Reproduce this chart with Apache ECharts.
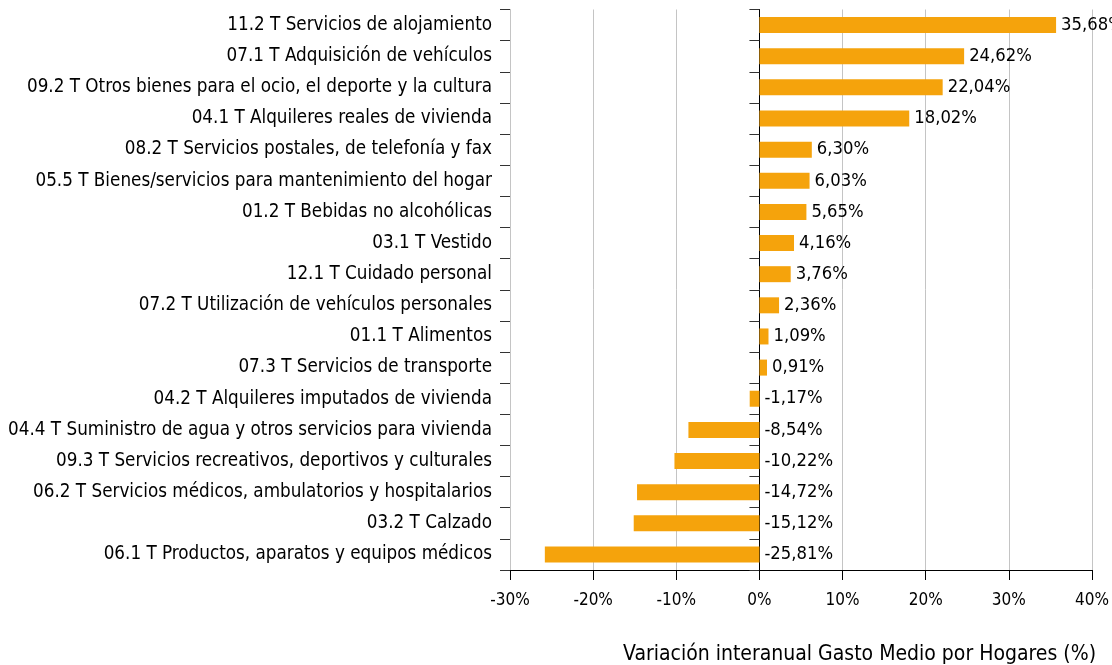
<!DOCTYPE html>
<html>
<head>
<meta charset="utf-8">
<script src="https://cdn.jsdelivr.net/npm/echarts@6/dist/echarts.min.js"></script>
<style>
html,body{margin:0;padding:0;background:#fff;}
#chart{width:1112px;height:665px;}
</style>
</head>
<body>
<div id="chart"></div>
<script>
const categories = [
  "11.2 T Servicios de alojamiento",
  "07.1 T Adquisición de vehículos",
  "09.2 T Otros bienes para el ocio, el deporte y la cultura",
  "04.1 T Alquileres reales de vivienda",
  "08.2 T Servicios postales, de telefonía y fax",
  "05.5 T Bienes/servicios para mantenimiento del hogar",
  "01.2 T Bebidas no alcohólicas",
  "03.1 T Vestido",
  "12.1 T Cuidado personal",
  "07.2 T Utilización de vehículos personales",
  "01.1 T Alimentos",
  "07.3 T Servicios de transporte",
  "04.2 T Alquileres imputados de vivienda",
  "04.4 T Suministro de agua y otros servicios para vivienda",
  "09.3 T Servicios recreativos, deportivos y culturales",
  "06.2 T Servicios médicos, ambulatorios y hospitalarios",
  "03.2 T Calzado",
  "06.1 T Productos, aparatos y equipos médicos"
];
const values = [35.68, 24.62, 22.04, 18.02, 6.30, 6.03, 5.65, 4.16, 3.76, 2.36, 1.09, 0.91, -1.17, -8.54, -10.22, -14.72, -15.12, -25.81];
const axisTitle = "Variación interanual Gasto Medio por Hogares (%)";
const xMin = -30, xMax = 40, xStep = 10;

const FONT = "DejaVu Sans Condensed";
const chart = echarts.init(document.getElementById('chart'), null, {renderer: 'canvas'});
chart.setOption({
  animation: false,
  backgroundColor: '#ffffff',
  textStyle: {fontFamily: FONT},
  title: {
    text: axisTitle,
    right: 16,
    top: 644,
    padding: 0,
    textStyle: {fontFamily: FONT, fontSize: 21, fontWeight: 'normal', color: '#000'}
  },
  grid: {left: 510, right: 20, top: 9.5, bottom: 95, containLabel: false},
  xAxis: {
    type: 'value',
    min: xMin, max: xMax, interval: xStep,
    axisLine: {show: true, onZero: false, lineStyle: {color: '#000', width: 1}},
    axisTick: {show: true, length: 10, lineStyle: {color: '#000'}},
    splitLine: {show: true, lineStyle: {color: '#c4c4c4', width: 1}},
    axisLabel: {
      margin: 22, fontFamily: FONT, fontSize: 17, color: '#000',
      formatter: v => v + '%'
    }
  },
  yAxis: [
    {
      type: 'category',
      data: categories,
      inverse: true,
      position: 'left',
      axisLine: {show: true, onZero: false, lineStyle: {color: '#c4c4c4'}},
      axisTick: {show: true, length: 10, lineStyle: {color: '#333'}},
      axisLabel: {margin: 18, fontFamily: FONT, fontSize: 18.7, color: '#000'}
    },
    {
      type: 'category',
      data: categories,
      inverse: true,
      position: 'left',
      axisLine: {show: true, onZero: true, lineStyle: {color: '#000'}},
      axisTick: {show: true, length: 10, lineStyle: {color: '#333'}},
      axisLabel: {show: false},
      splitLine: {show: false}
    }
  ],
  series: [{
    type: 'bar',
    data: values,
    yAxisIndex: 0,
    barWidth: 16,
    itemStyle: {color: '#F5A30C'},
    label: {
      show: true,
      position: 'right',
      distance: 5,
      fontFamily: FONT, fontSize: 18.3, color: '#000',
      formatter: p => p.value.toFixed(2).replace('.', ',') + '%'
    }
  }]
});
</script>
</body>
</html>
